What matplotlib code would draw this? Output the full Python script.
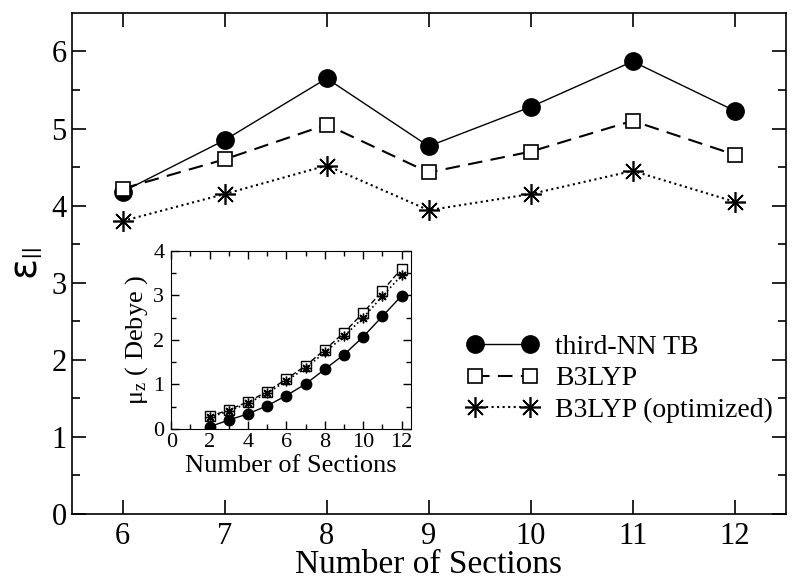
import matplotlib.pyplot as plt
import numpy as np

plt.rcParams['font.family'] = ['Liberation Serif', 'DejaVu Serif']
plt.rcParams['mathtext.fontset'] = 'stix'

# main panel data
sections = [6, 7, 8, 9, 10, 11, 12]
eps_tb = [4.18, 4.85, 5.65, 4.77, 5.28, 5.87, 5.23]
eps_b3 = [4.22, 4.60, 5.05, 4.43, 4.70, 5.10, 4.66]
eps_opt = [3.80, 4.15, 4.52, 3.94, 4.15, 4.45, 4.05]

# inset data
sec_in = [2, 3, 4, 5, 6, 7, 8, 9, 10, 11, 12]
mu_tb = [0.05, 0.20, 0.34, 0.52, 0.75, 1.01, 1.34, 1.67, 2.07, 2.53, 2.99]
mu_b3 = [0.28, 0.43, 0.61, 0.84, 1.12, 1.42, 1.78, 2.16, 2.61, 3.10, 3.60]
mu_opt = [0.26, 0.40, 0.58, 0.80, 1.08, 1.37, 1.72, 2.08, 2.50, 2.98, 3.45]

fig = plt.figure(figsize=(8, 5.86), dpi=100)
ax = fig.add_axes([0.0896, 0.123, 0.8925, 0.855])

star = (8, 2, 0)
ax.plot(sections, eps_tb, '-', color='black', lw=1, marker='o', ms=12.5,
        label='third-NN TB')
ax.plot(sections, eps_b3, color='black', lw=1.5, dashes=(7, 4), marker='s', ms=10,
        mfc='white', mew=1.2, label='B3LYP')
ax.plot(sections, eps_opt, ':', color='black', lw=1.5, marker=star, ms=15,
        mew=1.2, label='B3LYP (optimized)')

ax.set_xlim(5.5, 12.5)
ax.set_ylim(0, 6.5)
ax.set_xticks(range(6, 13))
ax.set_yticks(range(0, 7))
ax.set_yticks(np.arange(0.5, 6.5, 1.0), minor=True)
ax.tick_params(direction='in', which='both', top=True, right=True, labelsize=22,
               width=1.2)
ax.tick_params(which='major', length=10)
ax.tick_params(which='minor', length=6)
ax.tick_params(axis='x', pad=6)
for s in ax.spines.values():
    s.set_linewidth(1.2)
ax.set_xlabel('Number of Sections', fontsize=24, labelpad=-1)
ax.set_ylabel('ε$_{||}$', fontsize=28, labelpad=4, family='DejaVu Sans')

ax.legend(loc='center left', bbox_to_anchor=(0.518, 0.27), frameon=False,
          numpoints=2, fontsize=20, handlelength=2.6, labelspacing=0.22,
          handletextpad=0.6)

# inset
ins = fig.add_axes([0.214, 0.268, 0.30, 0.304])
ins.plot(sec_in, mu_tb, '-', color='black', lw=1, marker='o', ms=7.5)
ins.plot(sec_in, mu_b3, color='black', lw=1, dashes=(4, 2), marker='s', ms=6.5,
         mfc='white', mew=1)
ins.plot(sec_in, mu_opt, ':', color='black', lw=1.2, marker=star, ms=7, mew=1)
ins.set_xlim(0, 12.5)
ins.set_ylim(0, 4)
ins.set_xticks(range(0, 13, 2))
ins.set_xticks(range(1, 13, 2), minor=True)
ins.set_yticks(range(0, 5))
ins.set_yticks(np.arange(0.5, 4, 1.0), minor=True)
ins.tick_params(direction='in', which='both', top=True, right=True, labelsize=16,
                width=1)
ins.tick_params(axis='x', pad=3)
ins.tick_params(axis='y', pad=5)
ins.tick_params(which='major', length=6)
ins.tick_params(which='minor', length=3.5)
ins.set_xlabel('Number of Sections', fontsize=19, labelpad=2)
ins.set_ylabel(r'$\mathregular{\mu_z}$ ( Debye )', fontsize=19, labelpad=2)

fig.savefig('out.png', dpi=100)
